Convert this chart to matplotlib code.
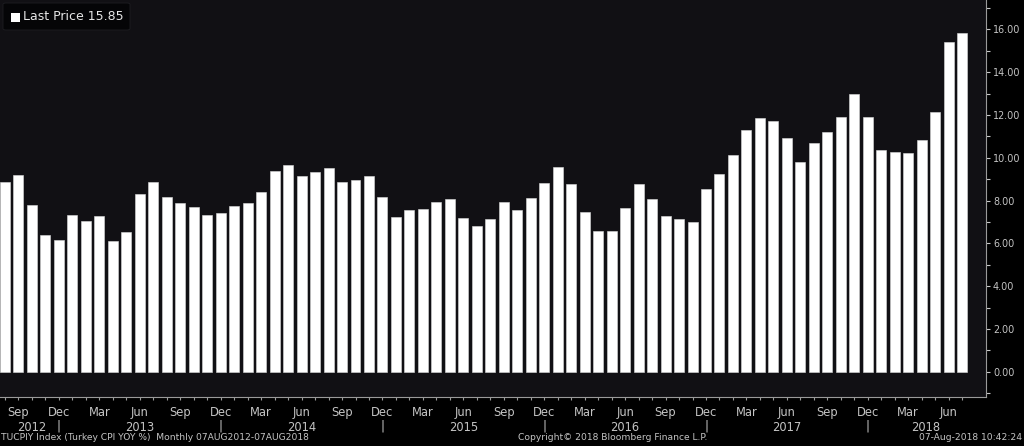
import matplotlib
matplotlib.use("Agg")
import matplotlib.pyplot as plt
from matplotlib.patches import FancyBboxPatch, Rectangle
from matplotlib.ticker import MultipleLocator, FixedLocator, FormatStrFormatter
import matplotlib.transforms as mtransforms

# ---- data: Turkey CPI YoY %, monthly Aug 2012 .. Jul 2018 ----
values_2012 = [8.88, 9.19, 7.80, 6.37, 6.16]
values_2013 = [7.31, 7.03, 7.29, 6.13, 6.51, 8.30, 8.88, 8.17, 7.88, 7.71, 7.32, 7.40]
values_2014 = [7.75, 7.89, 8.39, 9.38, 9.66, 9.16, 9.32, 9.54, 8.86, 8.96, 9.15, 8.17]
values_2015 = [7.24, 7.55, 7.61, 7.91, 8.09, 7.20, 6.81, 7.14, 7.95, 7.58, 8.10, 8.81]
values_2016 = [9.58, 8.78, 7.46, 6.57, 6.58, 7.64, 8.79, 8.05, 7.28, 7.16, 7.00, 8.53]
values_2017 = [9.22, 10.13, 11.29, 11.87, 11.72, 10.90, 9.79, 10.68, 11.20, 11.90, 12.98, 11.92]
values_2018 = [10.35, 10.26, 10.23, 10.85, 12.15, 15.39, 15.85]
values = values_2012 + values_2013 + values_2014 + values_2015 + values_2016 + values_2017 + values_2018

month_labels = ["Sep", "Dec", "Mar", "Jun"] * 6
month_label_idx = [1, 4, 7, 10, 13, 16, 19, 22, 25, 28, 31, 34, 37, 40, 43, 46,
                   49, 52, 55, 58, 61, 64, 67, 70]
year_labels = ["2012", "2013", "2014", "2015", "2016", "2017", "2018"]
year_label_idx = [2, 10, 22, 34, 46, 58, 68.3]
year_sep_idx = [4, 16, 28, 40, 52, 64]
last_price = "15.85"

FONT = "DejaVu Sans"
TXT = "#c4c4c4"
W, H = 1024, 446

fig = plt.figure(figsize=(W / 100, H / 100), dpi=100, facecolor="#000000")
ax_bottom_px = 397
ax_right_px = 986
ax = fig.add_axes([0, 1 - ax_bottom_px / H, ax_right_px / W, ax_bottom_px / H])
ax.set_facecolor("#111014")

x = list(range(len(values)))
ax.bar(x, values, width=0.74, color="white", edgecolor="#dcdcdc", linewidth=0.4, zorder=3)

ax.set_xlim(-0.371, 72.77)
ax.set_ylim(-1.18, 17.37)

for s in ["left", "top"]:
    ax.spines[s].set_visible(False)
for s in ["right", "bottom"]:
    ax.spines[s].set_color("#9a9a9a")
    ax.spines[s].set_linewidth(0.8)

ax.yaxis.tick_right()
ax.yaxis.set_major_locator(MultipleLocator(2))
ax.yaxis.set_minor_locator(MultipleLocator(1))
ax.yaxis.set_major_formatter(FormatStrFormatter("%.2f"))
ax.tick_params(axis="y", which="both", direction="out", colors="#c8c8c8",
               labelcolor=TXT, labelsize=6.9, length=3, width=0.8, pad=2)
for lab in ax.get_yticklabels():
    lab.set_family(FONT)

ax.xaxis.set_major_locator(FixedLocator(month_label_idx))
ax.xaxis.set_minor_locator(FixedLocator(x))
ax.set_xticklabels(month_labels)
ax.tick_params(axis="x", which="both", direction="out", colors="#9a9a9a",
               labelcolor=TXT, labelsize=8.3, length=2.5, width=0.8, pad=4)
for lab in ax.get_xticklabels():
    lab.set_family(FONT)

trans = mtransforms.blended_transform_factory(ax.transData, fig.transFigure)
for xi, lab in zip(year_label_idx, year_labels):
    fig.text(xi, 1 - 427.5 / H, lab, transform=trans, ha="center", va="center",
             color=TXT, fontsize=8.3, family=FONT)
for xi in year_sep_idx:
    fig.text(xi, 1 - 426 / H, "|", transform=trans, ha="center", va="center",
             color=TXT, fontsize=8.3, family=FONT)

# legend box
fig.patches.append(FancyBboxPatch((3 / W, 1 - 30 / H), 127 / W, 27 / H,
                                  boxstyle="round,pad=0,rounding_size=0.003",
                                  transform=fig.transFigure, facecolor="#050507",
                                  edgecolor="#1e1e22", linewidth=0.6, zorder=5))
fig.patches.append(Rectangle((11 / W, 1 - 21.5 / H), 9 / W, 9 / H,
                             transform=fig.transFigure, facecolor="white",
                             edgecolor="none", zorder=6))
fig.text(23 / W, 1 - 17 / H, "Last Price " + last_price, ha="left", va="center",
         color="#e6e6e6", fontsize=9, family=FONT, zorder=7)

# footer
fy = 1 - 437.5 / H
fig.text(1 / W, fy, "TUCPIY Index (Turkey CPI YOY %)  Monthly 07AUG2012-07AUG2018",
         ha="left", va="center", color=TXT, fontsize=6.6, family=FONT)
fig.text(518 / W, fy, "Copyright\u00a9 2018 Bloomberg Finance L.P.",
         ha="left", va="center", color=TXT, fontsize=6.6, family=FONT)
fig.text(1022 / W, fy, "07-Aug-2018 10:42:24",
         ha="right", va="center", color=TXT, fontsize=6.6, family=FONT)

fig.savefig("out.png", dpi=100, facecolor=fig.get_facecolor())
